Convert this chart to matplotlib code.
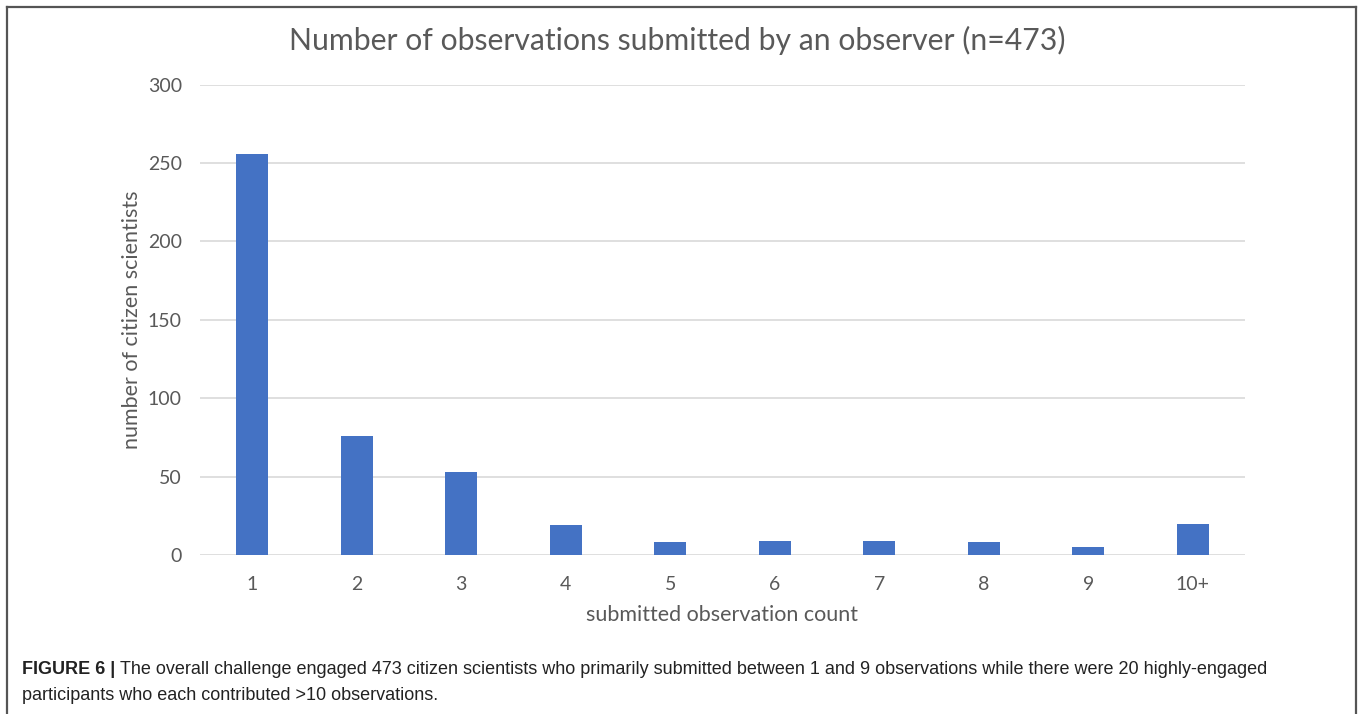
import matplotlib
matplotlib.use("Agg")
import matplotlib.pyplot as plt
from matplotlib import font_manager

# observations per participant, binned
categories = ["1", "2", "3", "4", "5", "6", "7", "8", "9", "10+"]
citizen_counts = [256, 76, 53, 19, 8, 9, 9, 8, 5, 20]
y_ticks = [0, 50, 100, 150, 200, 250, 300]

BAR = "#4472C4"
GRID = "#D9D9D9"
TEXT = "#595959"

installed = {f.name for f in font_manager.fontManager.ttflist}
chart_font = "Lato" if "Lato" in installed else "DejaVu Sans"
caption_font = ("Liberation Sans Narrow" if "Liberation Sans Narrow" in installed
                else "Liberation Sans")

fig = plt.figure(figsize=(13.6, 7.14), dpi=100)
ax = fig.add_axes([200 / 1360, 1 - 555 / 714, 1045 / 1360, 470.3 / 714])

x = range(len(categories))
ax.bar(x, citizen_counts, width=0.31, color=BAR, zorder=3)
ax.set_xlim(-0.5, len(categories) - 0.5)
ax.set_ylim(0, 300)
ax.set_yticks(y_ticks)
ax.set_xticks(list(x))
ax.set_xticklabels(categories)
ax.grid(axis="y", color=GRID, linewidth=1.2, zorder=0)
ax.tick_params(length=0, labelsize=14, labelcolor=TEXT)
ax.tick_params(axis="y", pad=13)
ax.tick_params(axis="x", pad=15)
for lbl in ax.get_xticklabels() + ax.get_yticklabels():
    lbl.set_fontfamily(chart_font)
for sp in ax.spines.values():
    sp.set_visible(False)

ax.set_xlabel("submitted observation count", fontsize=15.5, color=TEXT,
              family=chart_font, labelpad=9)
ax.set_ylabel("number of citizen scientists", fontsize=15.5, color=TEXT,
              family=chart_font, labelpad=4)
fig.text(677 / 1360, 1 - 40 / 714,
         "Number of observations submitted by an observer (n=473)",
         ha="center", va="center", fontsize=21.7, color=TEXT, family=chart_font)

# frame around the figure panel (open at the bottom edge)
frame = dict(transform=fig.transFigure, color="#555555", lw=1.6)
fig.add_artist(plt.Line2D([7 / 1360, 7 / 1360], [0, 1 - 7 / 714], **frame))
fig.add_artist(plt.Line2D([1356 / 1360, 1356 / 1360], [0, 1 - 7 / 714], **frame))
fig.add_artist(plt.Line2D([7 / 1360, 1356 / 1360], [1 - 7 / 714, 1 - 7 / 714], **frame))

# caption
cap_y1 = 1 - 670 / 714
cap_y2 = 1 - 695 / 714
t = fig.text(22 / 1360, cap_y1, "FIGURE 6 |", fontsize=13, fontweight="bold",
             color="#222222", family=caption_font, va="center", ha="left")
fig.canvas.draw()
bb = t.get_window_extent()
fig.text((bb.x1 + 5) / 1360, cap_y1,
         "The overall challenge engaged 473 citizen scientists who primarily submitted "
         "between 1 and 9 observations while there were 20 highly-engaged",
         fontsize=13, color="#222222", family=caption_font, va="center", ha="left")
fig.text(22 / 1360, cap_y2, "participants who each contributed >10 observations.",
         fontsize=13, color="#222222", family=caption_font, va="center", ha="left")

fig.savefig("out.png", dpi=100)
